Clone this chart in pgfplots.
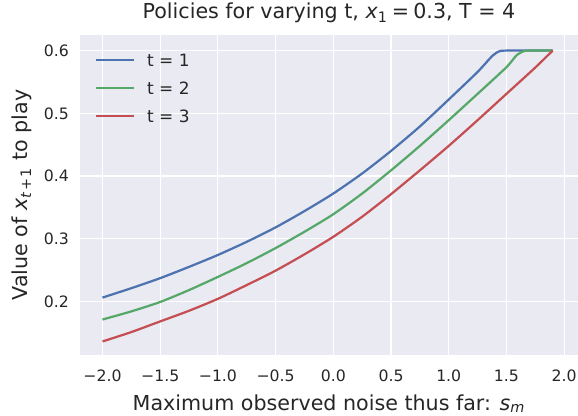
\documentclass[border=0pt]{standalone}
\usepackage{fontspec}
\setmainfont{DejaVu Sans}
\usepackage{pgfplots}
\pgfplotsset{compat=1.18}
\definecolor{sbblue}{HTML}{4C72B0}
\definecolor{sbgreen}{HTML}{55A868}
\definecolor{sbred}{HTML}{C44E52}
\definecolor{sbbg}{HTML}{EAEAF2}
\definecolor{sbtext}{HTML}{262626}
\begin{document}
\begin{tikzpicture}
\begin{axis}[
  scale only axis,
  width=358.56bp, height=230.4bp,
  xmin=-2.195, xmax=2.12,
  ymin=0.1144, ymax=0.6249,
  axis background/.style={fill=sbbg},
  axis line style={draw=none},
  major tick length=0pt,
  tick style={draw=none},
  grid=major,
  major grid style={white, line width=0.8bp},
  xtick={-2,-1.5,-1,-0.5,0,0.5,1,1.5,2},
  xticklabels={−2.0,−1.5,−1.0,−0.5,0.0,0.5,1.0,1.5,2.0},
  ytick={0.2,0.3,0.4,0.5,0.6},
  yticklabels={0.2,0.3,0.4,0.5,0.6},
  xticklabel style={font=\fontsize{11.3bp}{13bp}\selectfont, text=sbtext, anchor=north, inner sep=0pt, yshift=-10.8bp},
  yticklabel style={font=\fontsize{11.3bp}{13bp}\selectfont, text=sbtext, anchor=east, inner sep=0pt, xshift=-7.9bp},
  title={Policies for varying t, \textit{x}\textsubscript{1}\hspace{0.2em}=\hspace{0.2em}0.3, T = 4},
  title style={at={(axis description cs:0.5,1.0252)}, anchor=base, font=\fontsize{14.85bp}{17bp}\selectfont, text=sbtext, inner sep=0pt},
  xlabel={Maximum observed noise thus far: \textit{s}\textsubscript{\textit{m}}},
  xlabel style={at={(axis description cs:0.5,-0.1719)}, anchor=base, font=\fontsize{14.85bp}{17bp}\selectfont, text=sbtext, inner sep=0pt},
  ylabel={Value of \textit{x}\textsubscript{\textit{t}\hspace{0.1em}+\hspace{0.1em}1} to play},
  ylabel style={at={(axis description cs:-0.1057,0.5)}, anchor=base, font=\fontsize{14.85bp}{17bp}\selectfont, text=sbtext, inner sep=0pt},
  legend cell align=left,
  legend image code/.code={\draw[#1] (0bp,0bp) -- (27.4bp,0bp);},
  legend style={at={(axis description cs:0,1)}, anchor=north west, xshift=10.8bp, yshift=-12.35bp,
    draw=none, fill=none, inner sep=0pt, outer sep=0pt, row sep=8.9bp,
    font=\fontsize{12.2bp}{14bp}\selectfont, text=sbtext,
    nodes={inner sep=0pt, text height=10.1bp, text depth=1.2bp},
    /tikz/every odd column/.append style={column sep=8.6bp}},
  every axis plot/.append style={line width=1.6bp, smooth, tension=0.4},
]
\addplot[sbblue] coordinates {
(-2.0,0.206) (-1.75,0.221) (-1.5,0.237) (-1.25,0.255) (-1.0,0.274) (-0.75,0.295)
(-0.5,0.318) (-0.25,0.344) (0.0,0.372) (0.25,0.404) (0.5,0.440) (0.75,0.479)
(1.0,0.522) (1.25,0.566) (1.38,0.592) (1.44,0.599) (1.5,0.600) (1.9,0.600)};
\addlegendentry{t = 1}
\addplot[sbgreen] coordinates {
(-2.0,0.171) (-1.75,0.184) (-1.5,0.199) (-1.25,0.218) (-1.0,0.239) (-0.75,0.261)
(-0.5,0.285) (-0.25,0.311) (0.0,0.339) (0.25,0.372) (0.5,0.409) (0.75,0.448)
(1.0,0.489) (1.25,0.531) (1.5,0.5735) (1.59,0.593) (1.65,0.599) (1.7,0.600) (1.9,0.600)};
\addlegendentry{t = 2}
\addplot[sbred] coordinates {
(-2.0,0.136) (-1.75,0.151) (-1.5,0.168) (-1.25,0.185) (-1.0,0.204) (-0.75,0.226)
(-0.5,0.249) (-0.25,0.275) (0.0,0.303) (0.25,0.335) (0.5,0.371) (0.75,0.409)
(1.0,0.448) (1.25,0.489) (1.5,0.531) (1.75,0.573) (1.9,0.600)};
\addlegendentry{t = 3}
\end{axis}
\pgfresetboundingbox
\path[use as bounding box] ([shift={(-57.6bp,-43.92bp)}]current axis.south west) rectangle ([shift={(0bp,25.2bp)}]current axis.north east);
\end{tikzpicture}
\end{document}
